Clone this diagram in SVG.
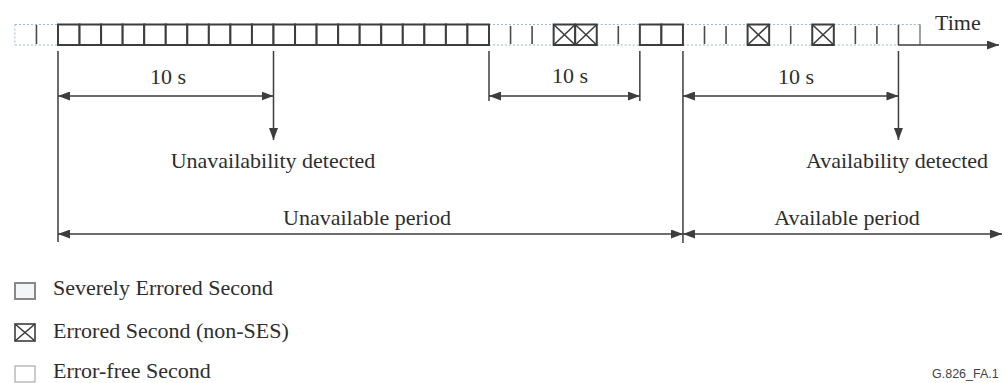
<svg xmlns="http://www.w3.org/2000/svg" width="1004" height="383" viewBox="0 0 1004 383">
<defs>
<style>
.t{font-family:"Liberation Serif","Times New Roman",serif;font-size:22px;fill:#2e2e2e}
.ses{fill:#fff;stroke:#3d3d3d;stroke-width:2}
.es{fill:#fff;stroke:#3d3d3d;stroke-width:2}
.x{stroke:#3d3d3d;stroke-width:1.6}
.ef{fill:none;stroke:#9fb6cf;stroke-width:1;stroke-dasharray:2 2}
.tick{stroke:#4a4a4a;stroke-width:1.6}
.ln{stroke:#3d3d3d;stroke-width:1.5;fill:none}
.a2{marker-start:url(#ah);marker-end:url(#ah)}
.a1{marker-end:url(#ah)}
</style>
<marker id="ah" viewBox="0 0 12 9" refX="12" refY="4.5" markerWidth="12" markerHeight="9" markerUnits="userSpaceOnUse" orient="auto-start-reverse">
<path d="M0,0 L12,4.5 L0,9 z" fill="#3d3d3d"/>
</marker>
</defs>
<rect width="1004" height="383" fill="#fff"/>

<g id="timeline">
<g id="ef-regions">
<path class="ef" d="M14.9,24.5 H58 M14.9,45 H58 M14.9,24.5 V45"/>
<path class="ef" d="M489,24.5 H553.65 M489,45 H553.65"/>
<path class="ef" d="M596.75,24.5 H639.85 M596.75,45 H639.85"/>
<path class="ef" d="M682.95,24.5 H747.6 M682.95,45 H747.6"/>
<path class="ef" d="M769.15,24.5 H812.25 M769.15,45 H812.25"/>
<path class="ef" d="M833.8,24.5 H920 M833.8,45 H898"/>
<line x1="920" y1="24.5" x2="920" y2="45" stroke="#777" stroke-width="1.4"/>
</g>
<g id="ticks">
<line class="tick" x1="36.45" y1="25" x2="36.45" y2="44"/>
<line class="tick" x1="510.55" y1="26" x2="510.55" y2="44"/>
<line class="tick" x1="532.1" y1="26" x2="532.1" y2="44"/>
<line class="tick" x1="618.3" y1="26" x2="618.3" y2="44"/>
<line class="tick" x1="704.5" y1="26" x2="704.5" y2="44"/>
<line class="tick" x1="726.05" y1="26" x2="726.05" y2="44"/>
<line class="tick" x1="790.7" y1="26" x2="790.7" y2="44"/>
<line class="tick" x1="855.35" y1="26" x2="855.35" y2="44"/>
<line class="tick" x1="876.9" y1="26" x2="876.9" y2="44"/>
<line class="tick" x1="898.45" y1="25" x2="898.45" y2="45"/>
</g>
<g id="ses-cells">
<rect class="ses" x="58" y="24.5" width="21.55" height="20.5"/>
<rect class="ses" x="79.55" y="24.5" width="21.55" height="20.5"/>
<rect class="ses" x="101.1" y="24.5" width="21.55" height="20.5"/>
<rect class="ses" x="122.65" y="24.5" width="21.55" height="20.5"/>
<rect class="ses" x="144.2" y="24.5" width="21.55" height="20.5"/>
<rect class="ses" x="165.75" y="24.5" width="21.55" height="20.5"/>
<rect class="ses" x="187.3" y="24.5" width="21.55" height="20.5"/>
<rect class="ses" x="208.85" y="24.5" width="21.55" height="20.5"/>
<rect class="ses" x="230.4" y="24.5" width="21.55" height="20.5"/>
<rect class="ses" x="251.95" y="24.5" width="21.55" height="20.5"/>
<rect class="ses" x="273.5" y="24.5" width="21.55" height="20.5"/>
<rect class="ses" x="295.05" y="24.5" width="21.55" height="20.5"/>
<rect class="ses" x="316.6" y="24.5" width="21.55" height="20.5"/>
<rect class="ses" x="338.15" y="24.5" width="21.55" height="20.5"/>
<rect class="ses" x="359.7" y="24.5" width="21.55" height="20.5"/>
<rect class="ses" x="381.25" y="24.5" width="21.55" height="20.5"/>
<rect class="ses" x="402.8" y="24.5" width="21.55" height="20.5"/>
<rect class="ses" x="424.35" y="24.5" width="21.55" height="20.5"/>
<rect class="ses" x="445.9" y="24.5" width="21.55" height="20.5"/>
<rect class="ses" x="467.45" y="24.5" width="21.55" height="20.5"/>
<rect class="ses" x="639.85" y="24.5" width="21.55" height="20.5"/>
<rect class="ses" x="661.4" y="24.5" width="21.55" height="20.5"/>
</g>
<g id="es-cells">
<rect class="es" x="553.65" y="24.5" width="21.55" height="20.5"/>
<path class="x" d="M553.65,24.5 L575.2,45 M575.2,24.5 L553.65,45"/>
<rect class="es" x="575.2" y="24.5" width="21.55" height="20.5"/>
<path class="x" d="M575.2,24.5 L596.75,45 M596.75,24.5 L575.2,45"/>
<rect class="es" x="747.6" y="24.5" width="21.55" height="20.5"/>
<path class="x" d="M747.6,24.5 L769.15,45 M769.15,24.5 L747.6,45"/>
<rect class="es" x="812.25" y="24.5" width="21.55" height="20.5"/>
<path class="x" d="M812.25,24.5 L833.8,45 M833.8,24.5 L812.25,45"/>
</g>
<text id="time-label" class="t" x="935" y="30">Time</text>
</g>

<g id="connectors">
<line class="ln a1" x1="898" y1="45" x2="999" y2="45"/>
<line class="ln" x1="58" y1="51" x2="58" y2="242"/>
<line class="ln a1" x1="273.5" y1="51" x2="273.5" y2="140"/>
<line class="ln" x1="489" y1="51" x2="489" y2="101"/>
<line class="ln" x1="639.85" y1="51" x2="639.85" y2="101"/>
<line class="ln" x1="682.95" y1="51" x2="682.95" y2="243"/>
<line class="ln a1" x1="898.45" y1="51" x2="898.45" y2="140"/>
<line class="ln a2" x1="58" y1="96" x2="273.5" y2="96"/>
<line class="ln a2" x1="489" y1="96" x2="639.85" y2="96"/>
<line class="ln a2" x1="682.95" y1="96" x2="898.45" y2="96"/>
<line class="ln a2" x1="58" y1="234" x2="682.95" y2="234"/>
<line class="ln a2" x1="682.95" y1="234" x2="1002" y2="234"/>
</g>

<g id="labels">
<text id="d1" class="t" x="168" y="84" text-anchor="middle">10 s</text>
<text id="d2" class="t" x="570" y="83" text-anchor="middle">10 s</text>
<text id="d3" class="t" x="796" y="84" text-anchor="middle">10 s</text>
<text id="unavail-det" class="t" x="273" y="168" text-anchor="middle">Unavailability detected</text>
<text id="avail-det" class="t" x="897" y="168" text-anchor="middle">Availability detected</text>
<text id="unavail-per" class="t" x="367" y="225" text-anchor="middle">Unavailable period</text>
<text id="avail-per" class="t" x="847" y="225" text-anchor="middle">Available period</text>
</g>

<g id="legend">
<g id="legend-ses">
<rect x="15" y="283" width="20" height="16" fill="#f3f5f7" stroke="#888" stroke-width="2"/>
<text class="t" x="53" y="295">Severely Errored Second</text>
</g>
<g id="legend-es">
<rect x="15" y="324" width="20" height="17" fill="#fff" stroke="#3d3d3d" stroke-width="1.6"/>
<path class="x" d="M15,324 L35,341 M35,324 L15,341"/>
<text class="t" x="53" y="338">Errored Second (non-SES)</text>
</g>
<g id="legend-ef">
<rect x="15" y="366" width="20" height="16" fill="#fff" stroke="#aaa" stroke-width="1.2"/>
<text class="t" x="53" y="378">Error-free Second</text>
</g>
</g>

<text id="fig-id" x="932" y="378" font-family="'Liberation Sans',Arial,sans-serif" font-size="12.5" fill="#444">G.826_FA.1</text>
</svg>
